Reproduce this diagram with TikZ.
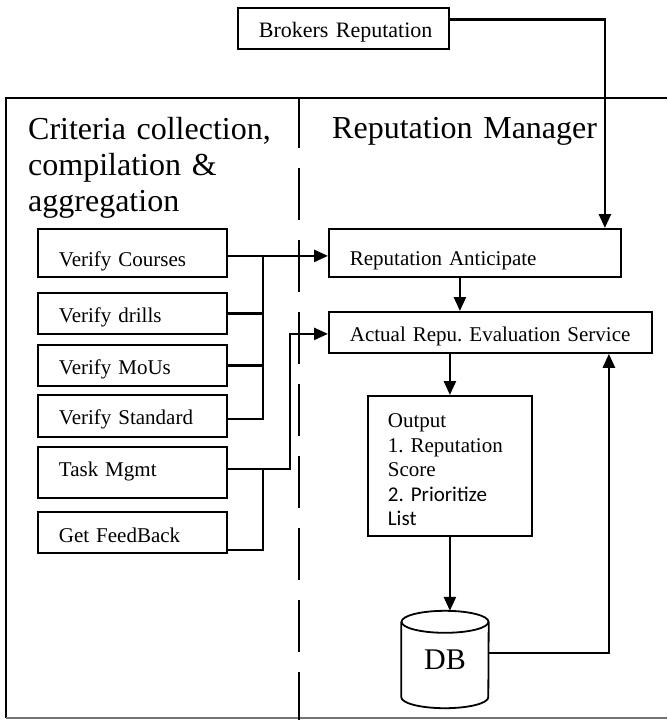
\documentclass[tikz,border=0pt]{standalone}
\usepackage{fontspec}
\setmainfont{Liberation Serif}
\newfontfamily\calib{Carlito}
\usetikzlibrary{arrows.meta}
\frenchspacing
\tikzset{
  x=1pt, y=1pt,
  box/.style={draw, line width=1.8pt, inner xsep=21pt, inner ysep=0pt, anchor=north west,
    align=left, font=\fontsize{21}{24.5}\selectfont},
  title/.style={anchor=base west, inner sep=0pt, text width=270pt, align=left,
    font=\fontsize{32}{36}\selectfont},
  arr/.style={line width=2.6pt, -{Triangle[length=14pt,width=12pt]}},
  ln/.style={line width=2.2pt},
  frame/.style={line width=1.5pt},
}
\begin{document}
\begin{tikzpicture}
\useasboundingbox (0,0) rectangle (667,-720);

% frame and divider
\draw[frame] (667,-98) -- (6,-98) -- (6,-718);
\draw[frame, black!55] (6,-718) -- (667,-718);
\draw[frame, dash pattern=on 52pt off 20pt, dash phase=2pt] (299,-98) -- (299,-720);

% titles
\node[title] (t1) at (28,-139) {Criteria collection,\\compilation \&\\aggregation};
\node[title] (t2) at (332,-138) {Reputation Manager};

% boxes
\node[box, font=\fontsize{22}{24}\selectfont, text width=169pt, text height=30pt, text depth=11pt] (br) at (237,-7) {\mbox{Brokers Reputation}};
\node[box, text width=147pt, text height=38pt, text depth=10pt] (vc) at (37,-228) {\mbox{Verify Courses}};
\node[box, text width=147pt, text height=30pt, text depth=11pt] (vd) at (37,-292) {\mbox{Verify drills}};
\node[box, text width=147pt, text height=30pt, text depth=11pt] (vm) at (37,-344) {\mbox{Verify MoUs}};
\node[box, text width=147pt, text height=30pt, text depth=12pt] (vs) at (37,-394) {\mbox{Verify Standard}};
\node[box, text width=147pt, text height=30pt, text depth=21pt] (tm) at (37,-446) {\mbox{Task Mgmt}};
\node[box, text width=147pt, text height=31pt, text depth=10pt] (gf) at (37,-511) {\mbox{Get FeedBack}};
\node[box, text width=250pt, text height=37pt, text depth=11pt] (ra) at (328,-228) {\mbox{Reputation Anticipate}};
\node[box, text width=281pt, text height=30pt, text depth=11pt] (ae) at (328,-311) {\mbox{Actual Repu. Evaluation Service}};
\node[box, inner xsep=20pt, text width=124pt, text height=32pt, text depth=108pt] (out) at (367,-395)
  {Output\\\mbox{1. Reputation}\\Score\\{\calib\mbox{2. Prioritize}}\\{\calib List}};

% database
\node[inner sep=0pt, minimum width=87pt, minimum height=97pt, font=\fontsize{30}{30}\selectfont] (db) at (445,-659.5) {DB};
\draw[line width=1.8pt] ([yshift=-11pt]db.north west) -- ([yshift=11pt]db.south west)
  arc[start angle=180, end angle=360, x radius=43.5pt, y radius=11pt] -- ([yshift=-11pt]db.north east);
\draw[line width=1.8pt] ([yshift=-11pt]db.north) ellipse [x radius=43.5pt, y radius=11pt];

% junctions
\coordinate (j1) at (263,-255);
\coordinate (j3) at (263,-468);

% connectors
\draw[arr] ([yshift=9pt]br.east) -| ([xshift=130pt]ra.north);
\draw[arr] ([yshift=-3pt]vc.east) -- ([yshift=-3pt]vc.east -| ra.west);
\draw[ln] (vd.east) -- (vd.east -| j1);
\draw[ln] (vm.east) -- (vm.east -| j1);
\draw[ln] ([yshift=-3pt]vs.east) -| (j1);
\draw[arr] ([yshift=3.5pt]tm.east) -- ++(62,0) |- ([yshift=-1.5pt]ae.west);
\draw[ln] ([yshift=4pt]gf.south east) -| (j3);
\draw[arr] ([xshift=-15pt]ra.south) -- ([xshift=-15pt]ra.south |- ae.north);
\draw[arr] (out.north |- ae.south) -- (out.north);
\draw[arr] (out.south) -- (out.south |- db.north);
\draw[arr] ([yshift=6.5pt]db.east) -| ([xshift=118.5pt]ae.south);
\end{tikzpicture}
\end{document}
